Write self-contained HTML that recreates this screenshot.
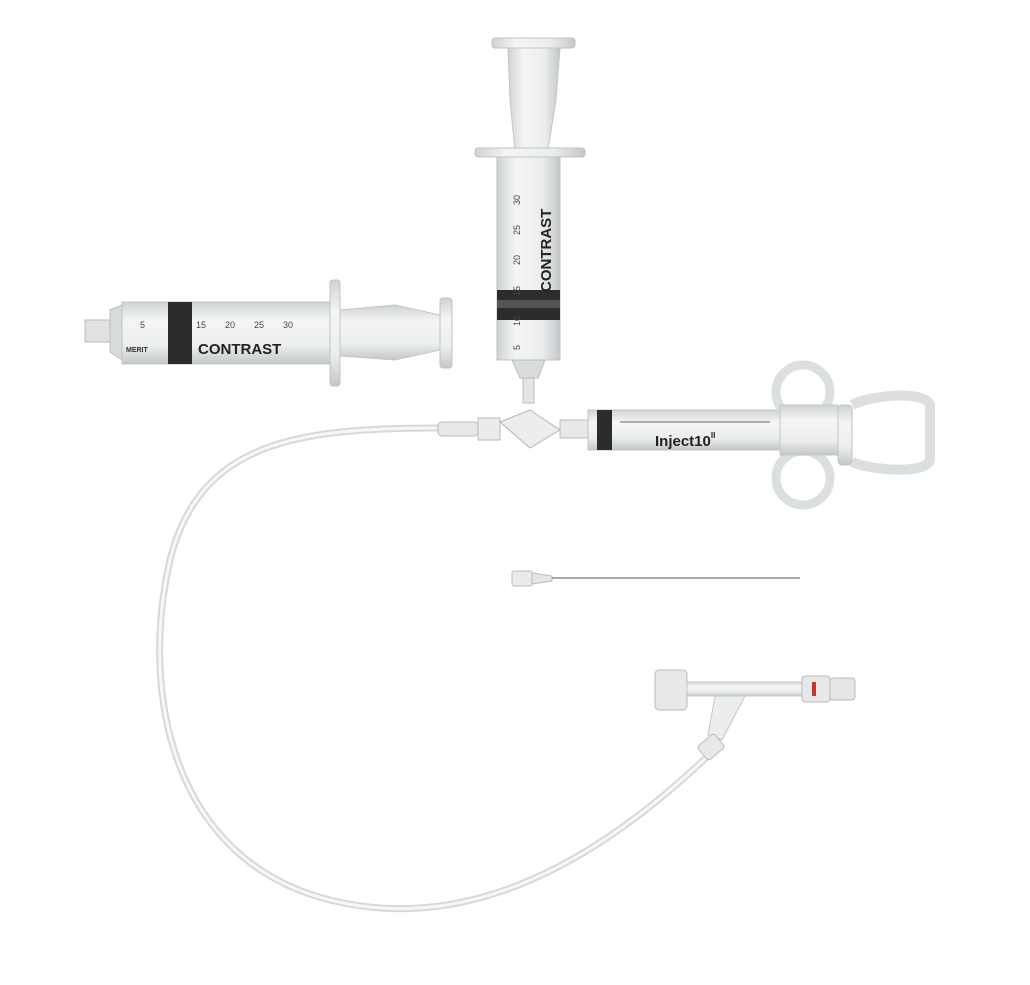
<!DOCTYPE html>
<html><head><meta charset="utf-8"><style>
html,body{margin:0;padding:0;background:#fff}
svg{display:block}
text{font-family:"Liberation Sans",sans-serif}
</style></head><body>
<svg width="1030" height="985" viewBox="0 0 1030 985" xmlns="http://www.w3.org/2000/svg">
<defs>
<linearGradient id="gv" x1="0" x2="1" y1="0" y2="0">
<stop offset="0" stop-color="#cfd2d4"/><stop offset="0.3" stop-color="#f4f5f5"/><stop offset="0.7" stop-color="#eceeee"/><stop offset="1" stop-color="#c4c7c9"/></linearGradient>
<linearGradient id="gh" x1="0" x2="0" y1="0" y2="1">
<stop offset="0" stop-color="#cfd2d4"/><stop offset="0.3" stop-color="#f4f5f5"/><stop offset="0.7" stop-color="#eceeee"/><stop offset="1" stop-color="#c4c7c9"/></linearGradient>
</defs>
<rect width="1030" height="985" fill="#fff"/>

<!-- tubing -->
<path d="M440 428 C300 428 200 440 170 560 C140 690 170 860 330 900 C470 935 600 860 712 752" fill="none" stroke="#d6d9db" stroke-width="7"/>
<path d="M440 428 C300 428 200 440 170 560 C140 690 170 860 330 900 C470 935 600 860 712 752" fill="none" stroke="#f6f7f7" stroke-width="3"/>

<!-- vertical syringe -->
<rect x="492" y="38" width="83" height="10" rx="3" fill="url(#gv)" stroke="#bfc3c5"/>
<path d="M508 48 L560 48 L556 100 L548 150 L515 150 L510 100 Z" fill="url(#gv)" stroke="#c4c7c9"/>
<rect x="475" y="148" width="110" height="9" rx="3" fill="url(#gv)" stroke="#bfc3c5"/>
<rect x="497" y="157" width="63" height="203" fill="url(#gv)" stroke="#c0c3c5"/>
<rect x="497" y="290" width="63" height="30" fill="#2a2c2e"/>
<rect x="497" y="300" width="63" height="8" fill="#555"/>
<path d="M512 360 L545 360 L538 378 L520 378 Z" fill="#d9dcdd" stroke="#bbb"/>
<rect x="523" y="378" width="11" height="25" fill="#e3e5e6" stroke="#bbb"/>
<text transform="translate(551,292) rotate(-90)" font-size="15" font-weight="bold" fill="#222">CONTRAST</text>
<g font-size="9" fill="#444">
<text transform="translate(520,205) rotate(-90)">30</text>
<text transform="translate(520,235) rotate(-90)">25</text>
<text transform="translate(520,265) rotate(-90)">20</text>
<text transform="translate(520,296) rotate(-90)">15</text>
<text transform="translate(520,326) rotate(-90)">10</text>
<text transform="translate(520,350) rotate(-90)">5</text></g>

<!-- left syringe -->
<rect x="85" y="320" width="25" height="22" fill="#dfe1e2" stroke="#bbb"/>
<path d="M110 310 L122 305 L122 360 L110 352 Z" fill="#d9dcdd" stroke="#bbb"/>
<rect x="122" y="302" width="210" height="62" fill="url(#gh)" stroke="#c0c3c5"/>
<rect x="168" y="302" width="24" height="62" fill="#2a2c2e"/>
<rect x="330" y="280" width="10" height="106" rx="3" fill="url(#gh)" stroke="#bfc3c5"/>
<path d="M340 310 L395 305 L440 315 L440 350 L395 360 L340 356 Z" fill="url(#gh)" stroke="#c4c7c9"/>
<rect x="440" y="298" width="12" height="70" rx="3" fill="url(#gh)" stroke="#bfc3c5"/>
<text x="198" y="354" font-size="15" font-weight="bold" fill="#222">CONTRAST</text>
<g font-size="9" fill="#444"><text x="140" y="328">5</text><text x="196" y="328">15</text><text x="225" y="328">20</text><text x="254" y="328">25</text><text x="283" y="328">30</text></g>
<text x="126" y="352" font-size="7" font-weight="bold" fill="#333">MERIT</text>

<!-- stopcock -->
<rect x="438" y="422" width="40" height="14" rx="4" fill="#e6e8e9" stroke="#bbb"/>
<rect x="478" y="418" width="22" height="22" fill="#e9ebec" stroke="#bbb"/>
<polygon points="500,422 530,410 560,430 530,448" fill="#ecedee" stroke="#b0b3b5"/>
<rect x="560" y="420" width="28" height="18" fill="#e6e8e9" stroke="#bbb"/>

<!-- inject10 syringe -->
<rect x="588" y="410" width="195" height="40" fill="url(#gh)" stroke="#c0c3c5"/>
<rect x="597" y="410" width="15" height="40" fill="#2a2c2e"/>
<text x="655" y="446" font-size="15" font-family="Liberation Serif" font-weight="bold" fill="#222">Inject10<tspan font-size="8" dy="-8">II</tspan></text>
<g stroke="#666" stroke-width="1"><line x1="620" y1="422" x2="770" y2="422"/></g>
<circle cx="803" cy="392" r="27" fill="none" stroke="#dcdfe0" stroke-width="9"/>
<circle cx="803" cy="478" r="27" fill="none" stroke="#dcdfe0" stroke-width="9"/>
<rect x="780" y="405" width="58" height="50" fill="url(#gh)" stroke="#c4c7c9"/>
<rect x="838" y="405" width="14" height="60" rx="4" fill="url(#gh)" stroke="#bfc3c5"/>
<path d="M852 405 C870 395 925 390 930 405 L930 460 C925 475 870 470 852 462" fill="none" stroke="#dcdfe0" stroke-width="10"/>

<!-- needle -->
<rect x="512" y="571" width="20" height="15" rx="2" fill="#e9ebec" stroke="#bbb"/>
<path d="M532 573 L552 576 L552 581 L532 584 Z" fill="#e3e5e6" stroke="#bbb"/>
<line x1="552" y1="578" x2="800" y2="578" stroke="#8a8d8f" stroke-width="1.5"/>

<!-- Y connector -->
<rect x="655" y="670" width="32" height="40" rx="4" fill="#e6e8e9" stroke="#bbb"/>
<rect x="687" y="682" width="115" height="14" fill="url(#gh)" stroke="#c4c7c9"/>
<path d="M715 696 L745 696 L722 740 L708 735 Z" fill="#eceeee" stroke="#c4c7c9"/>
<rect x="802" y="676" width="28" height="26" rx="3" fill="#e6e8e9" stroke="#bbb"/>
<rect x="812" y="682" width="4" height="14" fill="#c0392b"/>
<rect x="830" y="678" width="25" height="22" rx="3" fill="#e3e5e6" stroke="#bbb"/>
<rect x="700" y="738" width="22" height="18" rx="3" transform="rotate(-40 711 747)" fill="#e6e8e9" stroke="#bbb"/>
</svg>
</body></html>
